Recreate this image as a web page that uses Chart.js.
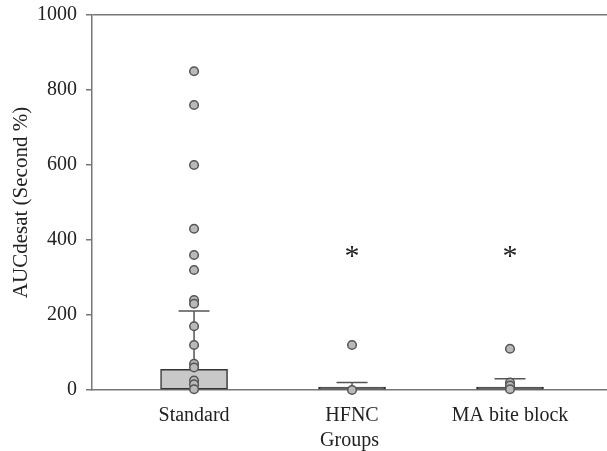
<!DOCTYPE html>
<html>
<head>
<meta charset="utf-8">
<script src="https://cdn.jsdelivr.net/npm/chart.js@4/dist/chart.umd.min.js"></script>
<style>
  html, body { margin: 0; padding: 0; background: #fff; overflow: hidden; }
  #wrap { width: 607px; height: 451px; }
</style>
</head>
<body>
<div id="wrap"><canvas id="aucChart"></canvas></div>
<script>
// Data
const groups = ['Standard', 'HFNC', 'MA bite block'];
const medians = [55, 8, 8];
const whiskerTops = [211, 20, 30];
const standardPoints = [850, 760, 600, 430, 360, 320, 240, 230, 170, 120, 70, 60, 25, 15, 2];
const hfncPoints = [120, 0];
const maPoints = [110, 20, 12, 2];
const significant = [false, true, true];
const starLevel = 370;
const yTicks = [0, 200, 400, 600, 800, 1000];

const serif = '"Liberation Serif", "DejaVu Serif", serif';

function pointsFor(idx, values) {
  return values.map(v => ({ x: idx + 1, y: v }));
}

// whiskers behind the bars, asterisks on top
const errorBarPlugin = {
  id: 'errorBars',
  beforeDatasetsDraw(chart) {
    const { ctx, scales: { x, y } } = chart;
    ctx.save();
    ctx.strokeStyle = '#555';
    ctx.lineWidth = 1.5;
    groups.forEach((g, i) => {
      const px = x.getPixelForValue(i + 1);
      const top = y.getPixelForValue(whiskerTops[i]);
      const base = y.getPixelForValue(medians[i]);
      ctx.beginPath();
      ctx.moveTo(px, base);
      ctx.lineTo(px, top);
      ctx.moveTo(px - 15.5, top);
      ctx.lineTo(px + 15.5, top);
      ctx.stroke();
    });
    ctx.restore();
  },
  afterDatasetsDraw(chart) {
    const { ctx, scales: { x, y } } = chart;
    ctx.save();
    ctx.fillStyle = '#222';
    ctx.font = '30px ' + serif;
    ctx.textAlign = 'center';
    ctx.textBaseline = 'alphabetic';
    const m = ctx.measureText('*');
    const shift = (m.actualBoundingBoxAscent - m.actualBoundingBoxDescent) / 2;
    groups.forEach((g, i) => {
      if (!significant[i]) return;
      ctx.fillText('*', x.getPixelForValue(i + 1), y.getPixelForValue(starLevel) + shift);
    });
    ctx.restore();
  }
};

const ctx = document.getElementById('aucChart').getContext('2d');
new Chart(ctx, {
  data: {
    datasets: [
      {
        type: 'scatter',
        order: 0,
        clip: false,
        data: [].concat(
          pointsFor(0, standardPoints),
          pointsFor(1, hfncPoints),
          pointsFor(2, maPoints)
        ),
        pointRadius: 4.3,
        pointBackgroundColor: '#b9b9b9',
        pointBorderColor: '#555',
        pointBorderWidth: 1.5
      },
      {
        type: 'bar',
        order: 1,
        data: medians.map((v, i) => ({ x: i + 1, y: v })),
        // flat bars read as a dark line in the original
        backgroundColor: (c) => (c.raw && c.raw.y < 20) ? '#333' : '#c8c8c8',
        borderColor: '#333',
        borderWidth: 1.5,
        borderSkipped: false,
        barThickness: 67
      }
    ]
  },
  options: {
    responsive: true,
    maintainAspectRatio: false,
    animation: false,
    layout: { autoPadding: false, padding: { top: 15, right: 0, bottom: 0, left: 0 } },
    plugins: {
      legend: { display: false },
      tooltip: { enabled: false }
    },
    scales: {
      x: {
        type: 'linear',
        offset: false,
        min: 0.354,
        max: 3.614,
        afterBuildTicks(scale) {
          scale.ticks = groups.map((g, i) => ({ value: i + 1 }));
        },
        afterFit(scale) {
          scale.height = 61;
          scale.paddingLeft = 0;
          scale.paddingRight = 0;
        },
        grid: { display: false },
        border: { display: true, color: '#777', width: 1.5 },
        ticks: {
          autoSkip: false,
          maxRotation: 0,
          padding: 6,
          color: '#222',
          font: { family: serif, size: 20 },
          callback: (v) => groups[v - 1] || ''
        },
        title: {
          display: true,
          text: 'Groups',
          color: '#222',
          font: { family: serif, size: 20 },
          padding: { top: 0, bottom: -2 }
        }
      },
      y: {
        min: 0,
        max: 1000,
        afterBuildTicks(scale) {
          scale.ticks = yTicks.map(v => ({ value: v }));
        },
        afterFit(scale) {
          scale.width = 92;
          scale.paddingTop = 0;
          scale.paddingBottom = 0;
        },
        grid: {
          drawOnChartArea: true,
          color: (c) => (c.tick && c.tick.value === 1000) ? '#777' : 'rgba(0,0,0,0)',
          tickColor: '#777',
          tickLength: 6,
          lineWidth: 1.5
        },
        border: { display: true, color: '#777', width: 1.5 },
        ticks: {
          padding: 9,
          color: '#222',
          font: { family: serif, size: 20 },
          callback: (v) => String(v)
        },
        title: {
          display: true,
          text: 'AUCdesat (Second %)',
          color: '#222',
          font: { family: serif, size: 21 },
          padding: { top: 9, bottom: 4 }
        }
      }
    }
  },
  plugins: [errorBarPlugin]
});
</script>
</body>
</html>
